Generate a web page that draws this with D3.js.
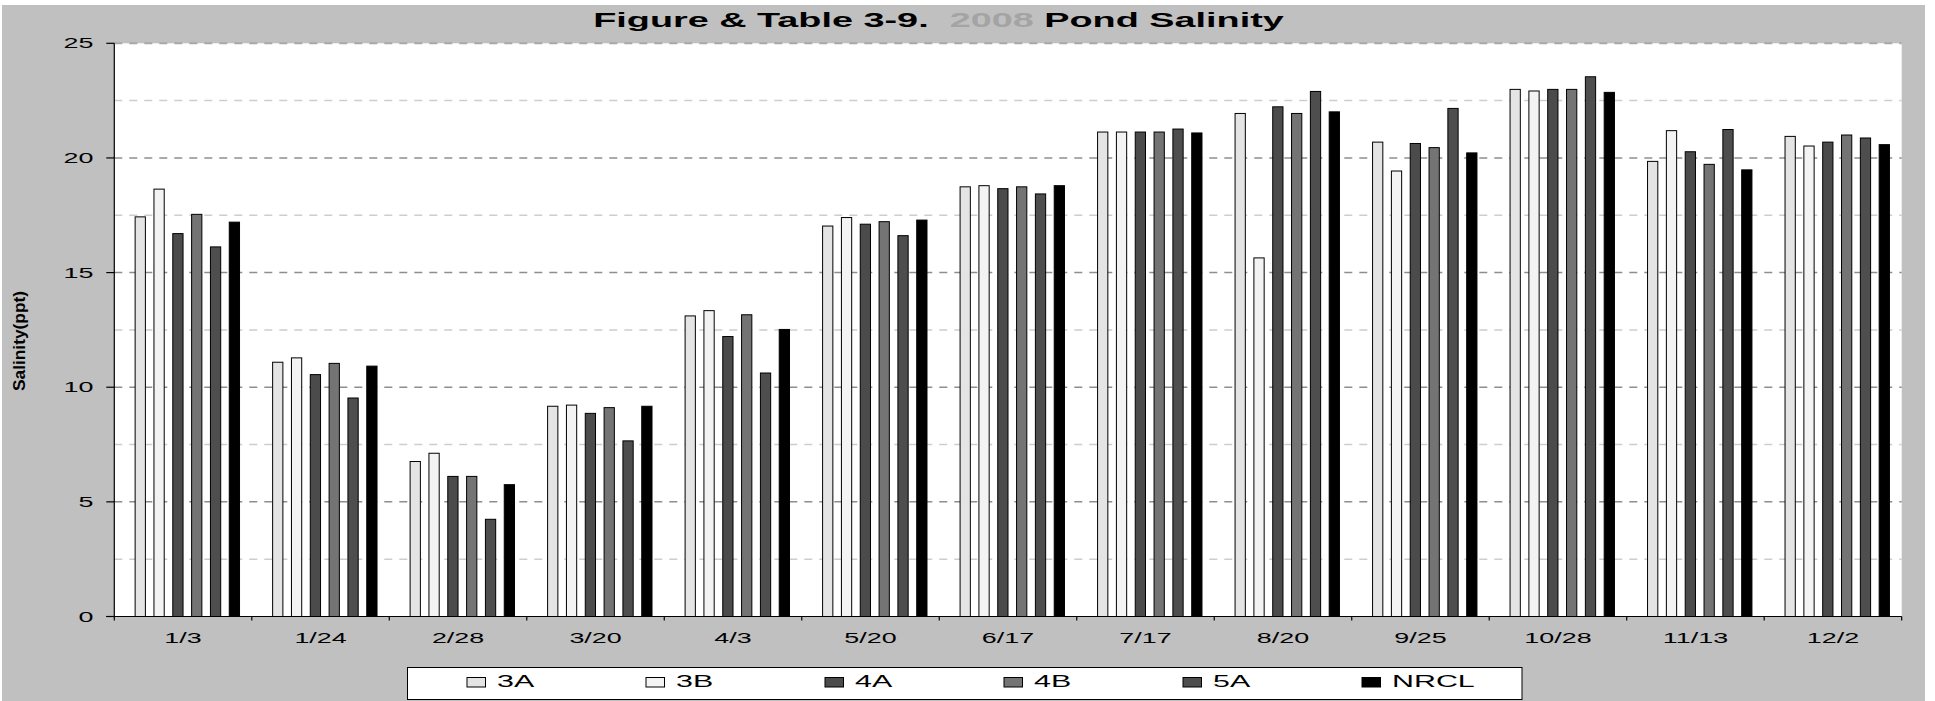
<!DOCTYPE html>
<html>
<head>
<meta charset="utf-8">
<script src="https://cdn.jsdelivr.net/npm/d3@7"></script>
<style>
  html, body { margin: 0; padding: 0; background: #ffffff; }
  svg { display: block; }
  text { font-family: "Liberation Sans", Arial, Helvetica, sans-serif; }
</style>
</head>
<body>
<svg id="chart" width="1935" height="701"></svg>
<script>
// ---- data ----
const categories = ["1/3", "1/24", "2/28", "3/20", "4/3", "5/20", "6/17", "7/17", "8/20", "9/25", "10/28", "11/13", "12/2"];
const seriesNames = ["3A", "3B", "4A", "4B", "5A", "NRCL"];
const s3A   = [17.43, 11.09, 6.76, 9.17, 13.11, 17.03, 18.74, 21.13, 21.94, 20.69, 22.99, 19.85, 20.94];
const s3B   = [18.64, 11.28, 7.12, 9.22, 13.34, 17.40, 18.79, 21.13, 15.64, 19.43, 22.92, 21.19, 20.52];
const s4A   = [16.70, 10.55, 6.11, 8.86, 12.21, 17.11, 18.66, 21.13, 22.23, 20.63, 22.99, 20.27, 20.69];
const s4B   = [17.54, 11.04, 6.11, 9.11, 13.16, 17.22, 18.74, 21.13, 21.94, 20.45, 22.99, 19.72, 21.00];
const s5A   = [16.12,  9.53, 4.24, 7.66, 10.62, 16.61, 18.43, 21.26, 22.90, 22.16, 23.54, 21.24, 20.87];
const sNRCL = [17.20, 10.92, 5.75, 9.17, 12.52, 17.29, 18.79, 21.09, 22.01, 20.22, 22.86, 19.48, 20.58];
const yTicks = [0, 5, 10, 15, 20, 25];
const yMinorTicks = [2.5, 7.5, 12.5, 17.5, 22.5];
const titleParts = ["Figure & Table 3-9.\u00a0\u00a0", "2008", "\u00a0Pond Salinity"];
const yAxisTitle = "Salinity(ppt)";

// ---- styles ----
const seriesValues = [s3A, s3B, s4A, s4B, s5A, sNRCL];
const fills = ["#e4e4e4", "#f3f3f3", "#4b4b4b", "#747474", "#4e4e4e", "#000000"];
const SX = 1.92; // horizontal text stretch seen in the reference

const svg = d3.select("#chart");
const L = 114.3, R = 1901.7, T = 43.3, B = 616.5;

// grey panel
svg.append("rect").attr("x", 2).attr("y", 5).attr("width", 1923).attr("height", 696).attr("fill", "#c0c0c0");
// plot area
svg.append("rect").attr("x", L).attr("y", T).attr("width", R - L).attr("height", B - T).attr("fill", "#ffffff");

const x0 = d3.scaleBand().domain(categories).range([L, R]).paddingInner(0).paddingOuter(0);
const groupW = 6 * 17.4;
const x1 = d3.scaleBand().domain(seriesNames).range([0, groupW]).paddingInner(0.455).paddingOuter(0);
const y = d3.scaleLinear().domain([0, 25]).range([B, T]);

// gridlines
svg.append("g").selectAll("line").data(yMinorTicks).join("line")
  .attr("x1", L).attr("x2", R).attr("y1", d => y(d)).attr("y2", d => y(d))
  .attr("stroke", "#cdcdcd").attr("stroke-width", 1.5).attr("stroke-dasharray", "8,7");
svg.append("g").selectAll("line").data(yTicks.filter(d => d > 0)).join("line")
  .attr("x1", L).attr("x2", R).attr("y1", d => y(d)).attr("y2", d => y(d))
  .attr("stroke", d => d === 25 ? "#a8a8a8" : "#8e8e8e").attr("stroke-width", d => d === 25 ? 2 : 1.5)
  .attr("stroke-dasharray", "8,7");

// bars
const groupSpan = x1.range()[1] - x1.step() + x1.bandwidth();
const groups = svg.append("g").selectAll("g").data(categories).join("g")
  .attr("transform", d => `translate(${x0(d) + (x0.bandwidth() - groupSpan) / 2},0)`);
groups.selectAll("rect").data((c, i) => seriesNames.map((s, k) => ({s, k, v: seriesValues[k][i]}))).join("rect")
  .attr("x", d => x1(d.s))
  .attr("width", x1.bandwidth())
  .attr("y", d => y(d.v))
  .attr("height", d => B - y(d.v))
  .attr("fill", d => fills[d.k])
  .attr("stroke", "#000").attr("stroke-width", 1);

// axes lines
svg.append("line").attr("x1", L).attr("x2", L).attr("y1", T).attr("y2", B).attr("stroke", "#000").attr("stroke-width", 1.2);
svg.append("line").attr("x1", L - 8).attr("x2", R).attr("y1", B).attr("y2", B).attr("stroke", "#000").attr("stroke-width", 1.2);

// y ticks + labels
svg.append("g").selectAll("line").data(yTicks).join("line")
  .attr("x1", L - 8).attr("x2", L).attr("y1", d => y(d)).attr("y2", d => y(d))
  .attr("stroke", "#000").attr("stroke-width", 1.2);
svg.append("g").selectAll("text").data(yTicks).join("text")
  .attr("transform", d => `translate(93.5,${y(d) + 5}) scale(${SX},1)`)
  .attr("text-anchor", "end").attr("font-size", 14).attr("fill", "#000")
  .text(d => d);

// x ticks at band boundaries
const xBounds = categories.map(c => x0(c)).concat([R]);
svg.append("g").selectAll("line").data(xBounds).join("line")
  .attr("x1", d => d).attr("x2", d => d).attr("y1", B).attr("y2", B + 4)
  .attr("stroke", "#000").attr("stroke-width", 1.2);
svg.append("g").selectAll("text").data(categories).join("text")
  .attr("transform", d => `translate(${x0(d) + x0.bandwidth() / 2},643.3) scale(${SX},1)`)
  .attr("text-anchor", "middle").attr("font-size", 14).attr("fill", "#000")
  .text(d => d);

// title
const title = svg.append("text")
  .attr("transform", `translate(938.5,27.3) scale(1.94,1)`)
  .attr("text-anchor", "middle").attr("font-size", 19.5).attr("font-weight", "bold");
title.append("tspan").attr("fill", "#000").text(titleParts[0]);
title.append("tspan").attr("fill", "#a4a4a4").text(titleParts[1]);
title.append("tspan").attr("fill", "#000").text(titleParts[2]);

// y axis title
svg.append("text")
  .attr("transform", "translate(25,341) rotate(-90) scale(1,0.85)")
  .attr("text-anchor", "middle").attr("font-size", 20).attr("font-weight", "bold")
  .attr("textLength", 100).attr("lengthAdjust", "spacingAndGlyphs")
  .text(yAxisTitle);

// legend
svg.append("rect").attr("x", 407.5).attr("y", 667.5).attr("width", 1114.5).attr("height", 32)
  .attr("fill", "#fff").attr("stroke", "#000").attr("stroke-width", 1);
const lg = svg.append("g").selectAll("g").data(seriesNames).join("g")
  .attr("transform", (d, i) => `translate(${467 + i * 179},0)`);
lg.append("rect").attr("x", 0).attr("y", 677.5).attr("width", 18.5).attr("height", 9.5)
  .attr("fill", (d, i) => fills[i]).attr("stroke", "#000").attr("stroke-width", 1);
lg.append("text").attr("transform", `translate(30,687) scale(1.9,1)`)
  .attr("font-size", 16).attr("fill", "#000").text(d => d);
</script>
</body>
</html>
